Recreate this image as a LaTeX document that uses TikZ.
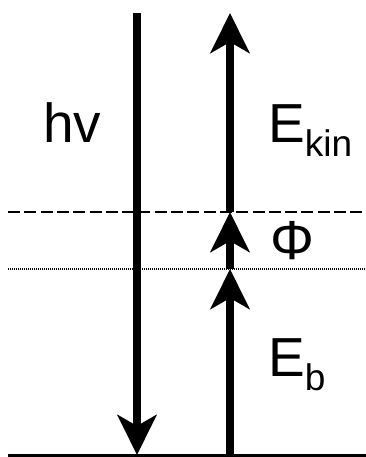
\documentclass[tikz,border=0pt]{standalone}
\usepackage{fontspec}
\setmainfont{Liberation Sans}
\usetikzlibrary{arrows.meta}

\newcommand{\lowidx}[1]{\raisebox{-14pt}{\fontsize{37}{40}\selectfont #1}}

\begin{document}
\begin{tikzpicture}[x=1pt, y=1pt,
      big/.style={line width=8pt, -{Stealth[length=40pt, width=39pt, inset=11pt]}},
      level/.style={line width=2pt, dash pattern=on 12pt off 4.3pt},
      dotlevel/.style={line width=1.6pt, dash pattern=on 1pt off 1pt},
      lbl/.style={inner sep=0pt, anchor=base west, font=\fontsize{55}{60}\selectfont}]

    \useasboundingbox (0,0) rectangle (366,457);

    % === levels ===
    \coordinate (base-w) at (8,1.5);
    \coordinate (base-e) at (366,1.5);
    \coordinate (vac-w) at (8,245);
    \coordinate (vac-e) at (366,245);
    \coordinate (fermi-w) at (8,188);
    \coordinate (fermi-e) at (366,188);
    \draw[line width=3pt] (base-w) -- (base-e);
    \draw[level] (vac-w) -- (vac-e);
    \draw[dotlevel] (fermi-w) -- (fermi-e);

    % === photon ===
    \coordinate (hv-top) at (137,444);
    \coordinate (hv-bot) at (137,2);
    \draw[big] (hv-top) -- (hv-bot);
    \node[lbl] (hv) at (43,314) {hv};

    % === electron ===
    \coordinate (e-bot) at (230,2);
    \coordinate (e-fermi) at (230,188);
    \coordinate (e-vac) at (230,245);
    \coordinate (e-top) at (230,444);
    \draw[big] (e-bot) -- (e-fermi);
    \draw[big] (e-fermi) -- (e-vac);
    \draw[big] (e-vac) -- (e-top);
    \node[lbl] (ekin) at (268,314) {E\lowidx{kin}};
    \node[lbl] (phi) at (270,197) {Φ};
    \node[lbl] (eb) at (268,80) {E\lowidx{b}};

\end{tikzpicture}
\end{document}
